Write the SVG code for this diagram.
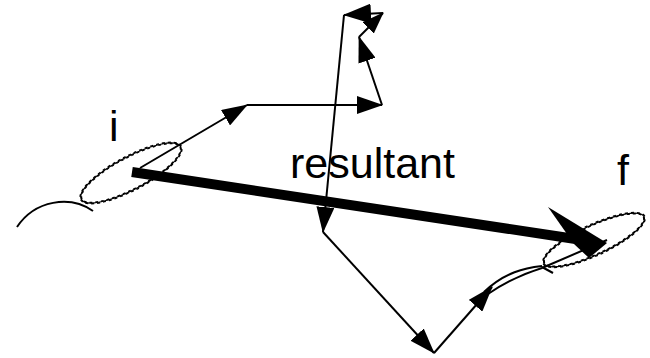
<svg xmlns="http://www.w3.org/2000/svg" width="650" height="358" viewBox="0 0 650 358">
  <style>
    .ln { fill: none; stroke: #000; stroke-width: 2; }
    .lbl { font-family: "Liberation Sans", Arial, sans-serif; font-size: 43px; fill: #000; }
    /* scalloped outline: a thin ring with dashed teeth inside and outside, offset by half a dash */
    .core { fill: none; stroke: #000; stroke-width: 1.2; }
    .rim { fill: none; stroke: #000; stroke-width: 1.4; stroke-dasharray: 1 1; }
    .rim-out { stroke-dashoffset: 1; }
  </style>
  <defs>
    <marker id="ah" viewBox="0 0 26 18" refX="25" refY="9" markerWidth="26" markerHeight="18" markerUnits="userSpaceOnUse" orient="auto">
      <path d="M0,0 L26,9 L0,18 Z" fill="#000"/>
    </marker>
    <marker id="ahs" viewBox="0 0 22 16" refX="21" refY="8" markerWidth="22" markerHeight="16" markerUnits="userSpaceOnUse" orient="auto">
      <path d="M0,0 L22,8 L0,16 Z" fill="#000"/>
    </marker>
    <marker id="ahl" viewBox="0 0 28 20" refX="27" refY="10" markerWidth="28" markerHeight="20" markerUnits="userSpaceOnUse" orient="auto">
      <path d="M0,0 L28,10 L0,20 Z" fill="#000"/>
    </marker>
  </defs>

  <!-- start point -->
  <g id="node-i">
    <g transform="rotate(-28 131 173)">
      <ellipse class="core" cx="131" cy="173" rx="56.2" ry="16.2"/>
      <ellipse class="rim" cx="131" cy="173" rx="55.5" ry="15.5" pathLength="84"/>
      <ellipse class="rim rim-out" cx="131" cy="173" rx="57" ry="17" pathLength="84"/>
    </g>
    <path class="ln" d="M17,227 C35,200 70,195 93,211"/>
    <text class="lbl" x="109" y="141">i</text>
  </g>

  <!-- end point -->
  <g id="node-f">
    <g transform="rotate(-25 594 240)">
      <ellipse class="core" cx="594" cy="240" rx="55.2" ry="14.7"/>
      <ellipse class="rim" cx="594" cy="240" rx="54.5" ry="14" pathLength="80"/>
      <ellipse class="rim rim-out" cx="594" cy="240" rx="56" ry="15.5" pathLength="80"/>
    </g>
    <text class="lbl" x="617" y="185">f</text>
  </g>

  <g id="label-resultant">
    <text class="lbl" x="290" y="178">resultant</text>
  </g>

  <g id="connectors">
    <!-- individual steps of the path -->
    <line class="ln" x1="140" y1="168" x2="247" y2="105" marker-end="url(#ah)"/>
    <line class="ln" x1="247" y1="105" x2="382" y2="105" marker-end="url(#ah)"/>
    <line class="ln" x1="382" y1="105" x2="359" y2="37" marker-end="url(#ah)"/>
    <line class="ln" x1="359" y1="37" x2="383" y2="13" marker-end="url(#ahs)"/>
    <line class="ln" x1="383" y1="13" x2="344" y2="15" marker-end="url(#ahl)"/>
    <line class="ln" x1="344" y1="15" x2="323" y2="232" marker-end="url(#ah)"/>
    <line class="ln" x1="323" y1="232" x2="434" y2="353" marker-end="url(#ah)"/>
    <line class="ln" x1="434" y1="353" x2="492" y2="287" marker-end="url(#ah)"/>
    <path class="ln" d="M484,292 C505,272 525,268 542,266"/>
    <path class="ln" d="M488,294 C508,280 526,273 542,268"/>
    <line class="ln" x1="542" y1="268" x2="607" y2="240"/>
    <path class="ln" d="M542,267 L553,273"/>

    <!-- resultant -->
    <line x1="132" y1="172" x2="582" y2="240" stroke="#000" stroke-width="10"/>
    <polygon points="548,207 607,243 589,258 574,244" fill="#000"/>
  </g>
</svg>
